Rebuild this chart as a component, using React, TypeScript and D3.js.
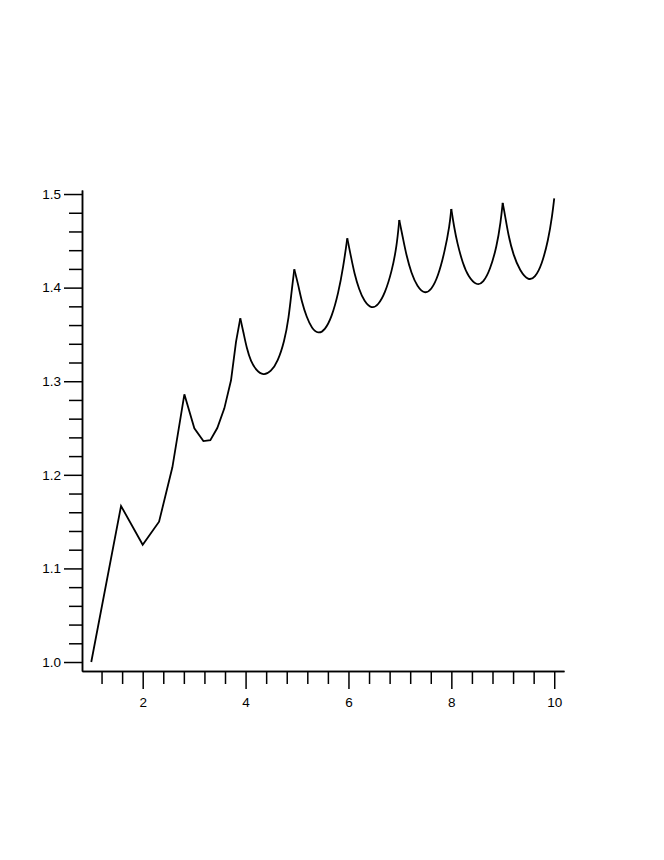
import React, { useEffect, useRef } from "react";
import * as d3 from "d3";

// curve; the left part is coarse straight segments,
// from the peak at ~3.9 on the arches are smooth with sharp peaks
const xs = [
  1.0, 1.579, 2.0, 2.318, 2.577, 2.81, 3.004, 3.18, 3.315, 3.45, 3.587, 3.717, 3.814,
  3.897, 3.956, 4.022, 4.105, 4.203, 4.345, 4.494, 4.624, 4.753, 4.838, 4.897,
  4.947, 5.025, 5.091, 5.188, 5.286, 5.414, 5.544, 5.674, 5.803, 5.9,
  5.977, 6.049, 6.114, 6.205, 6.308, 6.452, 6.58, 6.71, 6.841, 6.938,
  6.988, 7.06, 7.125, 7.222, 7.338, 7.482, 7.61, 7.741, 7.871, 7.968,
  7.999, 8.052, 8.116, 8.221, 8.33, 8.493, 8.621, 8.752, 8.882, 8.96,
  8.998, 9.043, 9.107, 9.205, 9.335, 9.496, 9.626, 9.757, 9.885, 9.963,
  10.0,
];
const ys = [
  1.0, 1.1667, 1.1253, 1.1499, 1.208, 1.286, 1.2497, 1.236, 1.237, 1.25, 1.271, 1.301, 1.342,
  1.3672, 1.3529, 1.3352, 1.3208, 1.312, 1.3059, 1.3102, 1.3208, 1.3422, 1.3672, 1.3974,
  1.4196, 1.4028, 1.385, 1.3683, 1.3565, 1.3504, 1.3547, 1.3683, 1.3939, 1.4223,
  1.4527, 1.433, 1.4153, 1.3982, 1.385, 1.3772, 1.3814, 1.3939, 1.417, 1.4437,
  1.4722, 1.4527, 1.4348, 1.4153, 1.401, 1.3932, 1.3974, 1.4117, 1.4384, 1.4669,
  1.484, 1.4651, 1.4473, 1.426, 1.4117, 1.402, 1.4053, 1.4188, 1.4437, 1.4704,
  1.4905, 1.4776, 1.4562, 1.4348, 1.4178, 1.4074, 1.4106, 1.4242, 1.4509, 1.4776,
  1.4954,
];
const smoothFrom = 3.897;

const xMajor = [2, 4, 6, 8, 10];
const xMinor = [1.2, 1.6, 2.4, 2.8, 3.2, 3.6, 4.4, 4.8, 5.2, 5.6, 6.4, 6.8, 7.2, 7.6, 8.4, 8.8, 9.2, 9.6];
const yMajor = [1.0, 1.1, 1.2, 1.3, 1.4, 1.5];
const yMinor = d3.range(0, 26).map((i) => 1 + i * 0.02).filter((v) => Math.abs(v * 10 - Math.round(v * 10)) > 1e-6);

export default function App() {
  const svgRef = useRef<SVGSVGElement>(null);

  useEffect(() => {
    const svg = d3.select(svgRef.current);
    svg.selectAll("*").remove();

    const x = d3.scaleLinear().domain([0.82, 10.19]).range([82, 564]);
    const y = d3.scaleLinear().domain([0.9904, 1.5043]).range([671, 190]);
    const font = "'Liberation Sans', Arial, Helvetica, sans-serif";

    const styleAxis = (g: any) => {
      g.selectAll("path, line").attr("stroke", "#000").attr("stroke-width", 1.5);
      g.selectAll("text").attr("fill", "#000").attr("font-size", 13.5).attr("font-family", font);
    };

    svg.append("g").attr("transform", "translate(0,671)")
      .call(d3.axisBottom(x).tickValues(xMinor).tickSize(13).tickSizeOuter(0).tickFormat(() => ""))
      .call(styleAxis);
    svg.append("g").attr("transform", "translate(0,671)")
      .call(d3.axisBottom(x).tickValues(xMajor).tickSize(18).tickSizeOuter(0).tickPadding(8).tickFormat(d3.format("d")))
      .call(styleAxis);
    svg.append("g").attr("transform", "translate(82,0)")
      .call(d3.axisLeft(y).tickValues(yMinor).tickSize(13).tickSizeOuter(0).tickFormat(() => ""))
      .call(styleAxis);
    svg.append("g").attr("transform", "translate(82,0)")
      .call(d3.axisLeft(y).tickValues(yMajor).tickSize(18).tickSizeOuter(0).tickPadding(3).tickFormat(d3.format(".1f")))
      .call(styleAxis);

    const pts: [number, number][] = xs.map((v, i) => [v, ys[i]]);
    const linear = d3.line<[number, number]>().x((d) => x(d[0])).y((d) => y(d[1]));
    const smooth = d3.line<[number, number]>().x((d) => x(d[0])).y((d) => y(d[1])).curve(d3.curveBasis);

    const pieces: { data: [number, number][]; smooth: boolean }[] = [];
    pieces.push({ data: pts.filter((p) => p[0] <= smoothFrom), smooth: false });
    let cur: [number, number][] = [];
    pts.forEach((p, i) => {
      if (p[0] < smoothFrom) return;
      cur.push(p);
      const isPeak = i > 0 && i < pts.length - 1 && p[1] > pts[i - 1][1] && p[1] > pts[i + 1][1];
      if (isPeak && cur.length > 1) {
        pieces.push({ data: cur, smooth: true });
        cur = [p];
      }
    });
    if (cur.length > 1) pieces.push({ data: cur, smooth: true });

    svg.append("g").selectAll("path")
      .data(pieces)
      .enter().append("path")
      .attr("d", (d) => (d.smooth ? smooth(d.data) : linear(d.data)) as string)
      .attr("fill", "none")
      .attr("stroke", "#000")
      .attr("stroke-width", 1.8)
      .attr("stroke-linejoin", "miter");
  }, []);

  return (
    <svg ref={svgRef} width={664} height={860}
      style={{ position: "absolute", left: 0, top: 0, background: "#fff" }} />
  );
}
